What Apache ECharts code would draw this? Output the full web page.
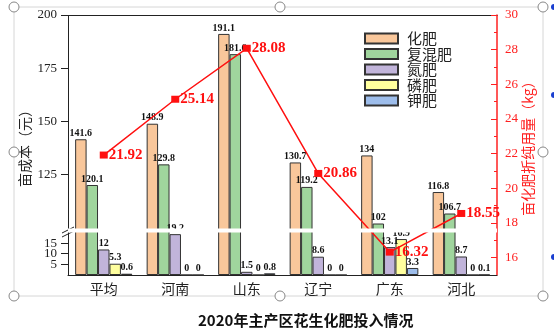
<!DOCTYPE html>
<html>
<head>
<meta charset="utf-8">
<script src="https://cdn.jsdelivr.net/npm/echarts@6/dist/echarts.min.js"></script>
<style>html,body{margin:0;padding:0;background:#fff;}#c{width:554px;height:329px;}</style>
</head>
<body>
<div id="c"></div>
<script>
const categories = ['平均', '河南', '山东', '辽宁', '广东', '河北'];
const huafei = [141.6, 148.9, 191.1, 130.7, 134, 116.8];
const fuhunfei = [120.1, 129.8, 181.6, 119.2, 102, 106.7];
const danfei = [12, 19.2, 1.5, 8.6, 13.1, 8.7];
const linfei = [5.3, 0, 0, 0, 16.9, 0];
const jiafei = [0.6, 0, 0.8, 0, 3.3, 0.1];
const pureUse = [21.92, 25.14, 28.08, 20.86, 16.32, 18.55];
const leftTicks = [0, 5, 10, 15, 125, 150, 175, 200];
const rightTicks = [16, 18, 20, 22, 24, 26, 28, 30];
const rightMinorTicks = [17, 19, 21, 23, 25, 27, 29];

const serif = "'Liberation Serif','Times New Roman','Noto Sans CJK SC',serif";
const cjk = "'Noto Sans CJK SC','Liberation Serif',serif";

function barSeries(name, data, color) {
  return {
    name: name, type: 'bar', data: data,
    barGap: '0%', barCategoryGap: '20%',
    itemStyle: { color: color, borderColor: '#333', borderWidth: 1 },
    label: { show: true, position: 'top', distance: 1, fontSize: 10, fontWeight: 'bold',
      fontFamily: serif, color: '#111' },
    z: 2
  };
}

const chart = echarts.init(document.getElementById('c'), null, { renderer: 'canvas' });
const frameColor = '#d6d6d6';
const handles = [[14,7],[280,7],[543,7],[14,152],[543,152],[14,296],[280,296],[543,296]];
const graphics = [{
  type: 'rect', shape: { x: 14, y: 7, width: 529, height: 289 },
  style: { fill: null, stroke: frameColor, lineWidth: 1 }, silent: true, z: -10
}];
handles.forEach(function (p) {
  graphics.push({ type: 'circle', shape: { cx: p[0], cy: p[1], r: 5 },
    style: { fill: '#fff', stroke: '#888', lineWidth: 1 }, z: 100 });
});
[[554,7],[554,95],[554,257]].forEach(function (p) {
  graphics.push({ type: 'circle', shape: { cx: p[0], cy: p[1], r: 3 },
    style: { fill: '#1a3fd0' }, z: 100 });
});
// axis-break slash marks on the left axis
graphics.push({ type: 'line', shape: { x1: 62, y1: 233, x2: 74, y2: 227 },
  style: { stroke: '#222', lineWidth: 1 }, z: 100 });
graphics.push({ type: 'line', shape: { x1: 62, y1: 237, x2: 74, y2: 231 },
  style: { stroke: '#222', lineWidth: 1 }, z: 100 });

chart.setOption({
  animation: false,
  backgroundColor: '#fff',
  title: {
    text: '2020年主产区花生化肥投入情况', left: 193, top: 308,
    textStyle: { fontSize: 15, fontWeight: 'bold', color: '#111', fontFamily: cjk }
  },
  legend: {
    orient: 'vertical', left: 359, top: 26, icon: 'rect',
    itemWidth: 33, itemHeight: 10, itemGap: 0.5,
    data: ['化肥', '复混肥', '氮肥', '磷肥', '钾肥'],
    textStyle: { fontSize: 15, lineHeight: 13.5, color: '#222', fontFamily: cjk, padding: [0, 0, 0, 4] }
  },
  grid: { left: 68, right: 57, top: 15, bottom: 54 },
  xAxis: [{
    type: 'category', data: categories,
    axisLine: { lineStyle: { color: '#222', width: 1 } },
    axisTick: { alignWithLabel: true, length: 5, lineStyle: { color: '#222' } },
    axisLabel: { fontSize: 14, color: '#222', margin: 7, fontFamily: cjk }
  }, {
    type: 'category', data: categories, position: 'top',
    axisLine: { show: true, lineStyle: { color: '#222', width: 1 } },
    axisTick: { show: false }, axisLabel: { show: false }
  }],
  yAxis: [{
    type: 'value', min: 0, max: 200, position: 'left',
    breaks: [{ start: 20, end: 100, gap: 2.2 }],
    breakArea: { show: true, expandOnClick: false, zigzagAmplitude: 0,
      itemStyle: { color: '#fff', borderColor: '#fff', borderWidth: 0, opacity: 1 } },
    name: '亩成本（元）', nameLocation: 'middle', nameGap: 36, nameRotate: 90,
    nameMoveOverlap: false,
    nameTextStyle: { fontSize: 14, color: '#222', fontFamily: cjk },
    axisLine: { show: true, lineStyle: { color: '#222', width: 1 } },
    axisTick: { show: true, length: 7, customValues: leftTicks, lineStyle: { color: '#222' } },
    axisLabel: { customValues: leftTicks, fontSize: 13, color: '#222', margin: 11, fontFamily: serif },
    splitLine: { show: false }
  }, {
    type: 'value', min: 15, max: 30, position: 'right',
    name: '亩化肥折纯用量（kg）', nameLocation: 'middle', nameGap: 24, nameRotate: 90,
    nameMoveOverlap: false,
    nameTextStyle: { fontSize: 14, color: '#ff2020', fontFamily: cjk },
    axisLine: { show: true, lineStyle: { color: '#ff2020', width: 1.5 } },
    axisTick: { show: true, inside: true, length: 6, customValues: rightTicks, lineStyle: { color: '#ff2020' } },
    axisLabel: { customValues: rightTicks, fontSize: 13, color: '#ff2020', margin: 8, fontFamily: serif },
    splitLine: { show: false }
  }, {
    type: 'value', min: 15, max: 30, position: 'right',
    axisLine: { show: false },
    axisTick: { show: true, inside: true, length: 3, customValues: rightMinorTicks, lineStyle: { color: '#ff2020' } },
    axisLabel: { show: false }, splitLine: { show: false }
  }],
  series: [
    barSeries('化肥', huafei, '#F9C79B'),
    barSeries('复混肥', fuhunfei, '#A0D59D'),
    barSeries('氮肥', danfei, '#C1B4DA'),
    barSeries('磷肥', linfei, '#FFFF9E'),
    barSeries('钾肥', jiafei, '#9DBDEB'),
    {
      name: '亩化肥折纯用量', type: 'line', yAxisIndex: 1, data: pureUse,
      symbol: 'rect', symbolSize: [8, 7],
      lineStyle: { color: '#ff1010', width: 1.5 },
      itemStyle: { color: '#ff1010' },
      label: { show: true, position: 'right', distance: 1, fontSize: 15, fontWeight: 'bold',
        color: '#ff1010', fontFamily: serif },
      z: 5
    }
  ],
  graphic: graphics
});
</script>
</body>
</html>
